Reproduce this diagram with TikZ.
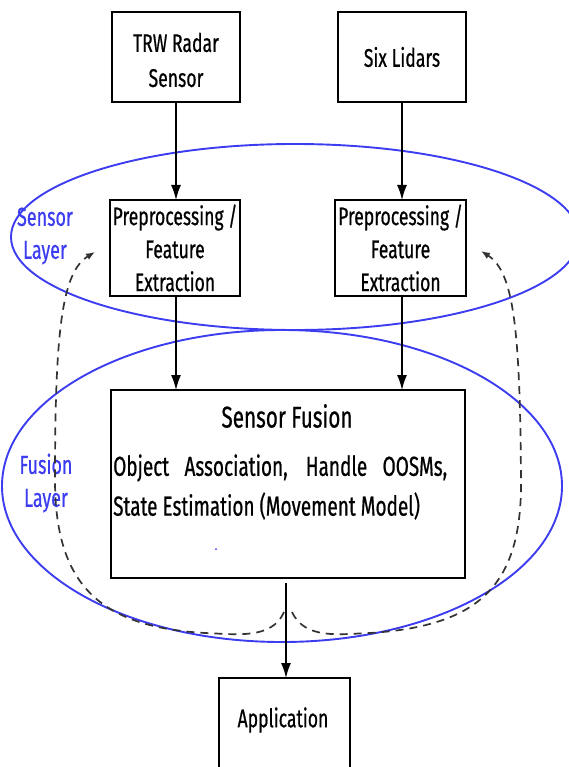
\documentclass[tikz,border=0pt]{standalone}
\usepackage{fontspec}
\setmainfont{Fira Sans}[FakeStretch=0.69,FakeBold=0.6]
\usetikzlibrary{arrows.meta}
\definecolor{layerblue}{RGB}{60,60,240}
\tikzset{
  box/.style={draw=black, line width=1.6pt, fill=white},
  lbl/.style={font=\fontsize{25.5}{35}\selectfont, align=center, inner sep=0pt},
  layerlbl/.style={font=\fontsize{26}{33}\selectfont, text=layerblue, align=center, inner sep=0pt},
  flow/.style={draw=black, line width=1.5pt, -{Latex[length=15pt,width=10pt]}},
  fb/.style={draw=black!80, line width=1.7pt, dash pattern=on 8pt off 6pt, -{Latex[length=9pt,width=7pt]}},
  layer/.style={draw=layerblue, line width=1.9pt}
}
\begin{document}
\begin{tikzpicture}[x=1pt,y=-1pt]
\useasboundingbox (0,0) rectangle (569,767);
% layers
\draw[layer] (295,237) ellipse [x radius=284, y radius=93];
\draw[layer] (282,486) ellipse [x radius=280, y radius=156];
\node[layerlbl] (sl) at (45,236) {Sensor\\Layer};
\node[layerlbl] (fl) at (46,483) {Fusion\\Layer};
% boxes
\node[box, minimum width=128pt, minimum height=90pt] (trw) at (176,57) {};
\node[lbl] at (176,60) {TRW Radar\\Sensor};
\node[box, minimum width=128pt, minimum height=90pt] (six) at (402,57) {};
\node[lbl] at (six) {Six Lidars};
\node[box, minimum width=130pt, minimum height=96pt] (pl) at (175,248) {};
\node[lbl, font=\fontsize{25.5}{33}\selectfont] at (pl) {Preprocessing /\\Feature\\Extraction};
\node[box, minimum width=131pt, minimum height=96pt] (pr) at (400.5,248) {};
\node[lbl, font=\fontsize{25.5}{33}\selectfont] at (pr) {Preprocessing /\\Feature\\Extraction};
\node[box, minimum width=354pt, minimum height=188pt] (sf) at (288,484) {};
\node[font=\fontsize{30}{33}\selectfont, inner sep=0pt] (sft) at (287,416) {Sensor Fusion};
\node[font=\fontsize{27.5}{33}\selectfont, inner sep=0pt, anchor=west] (l1) at (113,468) {\makebox[334pt][s]{Object Association, Handle OOSMs,}};
\node[font=\fontsize{27.5}{33}\selectfont, inner sep=0pt, anchor=west] (l2) at (113,506) {State Estimation (Movement Model)};
\fill[layerblue] (216,549) circle (1pt);
\node[box, minimum width=131pt, minimum height=100pt] (app) at (284.5,728) {};
\node[lbl] at (283,720) {Application};
% flows
\coordinate (trwb) at (176,102);
\coordinate (plt) at (176,200);
\coordinate (sixb) at (402,102);
\coordinate (prt) at (402,200);
\coordinate (plb) at (176,296);
\coordinate (sflt) at (176,390);
\coordinate (prb) at (402,296);
\coordinate (sfrt) at (402,390);
\coordinate (sfb) at (286,583);
\coordinate (appt) at (286,678);
\draw[flow] (trwb) -- (plt);
\draw[flow] (sixb) -- (prt);
\draw[flow] (plb) -- (sflt);
\draw[flow] (prb) -- (sfrt);
\draw[flow] (sfb) -- (appt);
% feedback
\coordinate (fbl0) at (284,612);
\coordinate (fbr0) at (292,612);
\coordinate (fblt) at (95,252);
\coordinate (fbrt) at (481,251);
\draw[fb] (fbl0) .. controls (272,640) and (235,634) .. (205,633)
  .. controls (100,627) and (55,585) .. (55,480)
  .. controls (55,330) and (62,272) .. (fblt);
\draw[fb] (fbr0) .. controls (305,640) and (340,634) .. (370,633)
  .. controls (480,626) and (522,585) .. (521,480)
  .. controls (520,330) and (514,272) .. (fbrt);
\end{tikzpicture}
\end{document}
